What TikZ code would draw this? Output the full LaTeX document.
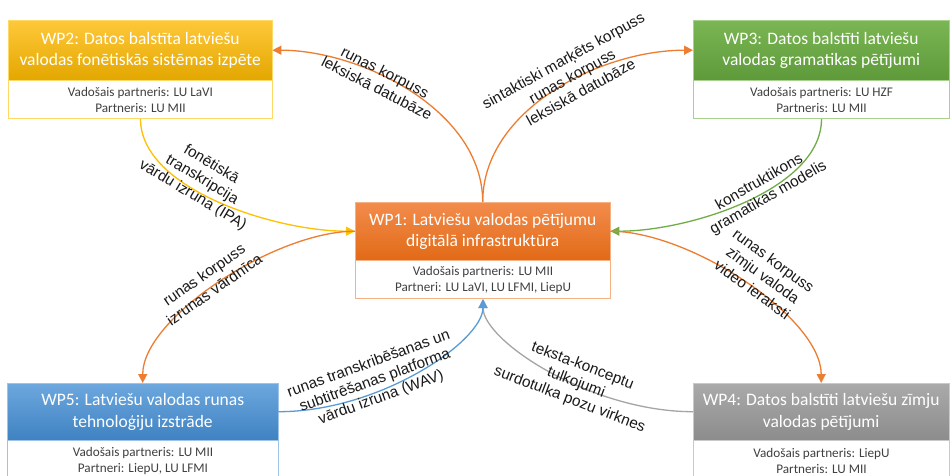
\documentclass[tikz,border=0pt]{standalone}
\usepackage{fontspec}
\setmainfont{Carlito}
\newfontfamily\arialf{Liberation Sans}
\usetikzlibrary{arrows.meta}
\definecolor{ygoldT}{HTML}{FFC83A}
\definecolor{ygoldB}{HTML}{E3A700}
\definecolor{ygoldL}{HTML}{FFD966}
\definecolor{grT}{HTML}{7AB653}
\definecolor{grB}{HTML}{5E9A3A}
\definecolor{grL}{HTML}{A9D18E}
\definecolor{orT}{HTML}{F28C4C}
\definecolor{orB}{HTML}{E26A17}
\definecolor{orL}{HTML}{F4B183}
\definecolor{blT}{HTML}{6DA8DE}
\definecolor{blB}{HTML}{3F82C2}
\definecolor{blL}{HTML}{9DC3E6}
\definecolor{gyT}{HTML}{AAAAAA}
\definecolor{gyB}{HTML}{8C8C8C}
\definecolor{gyL}{HTML}{C9C9C9}
\definecolor{arOr}{HTML}{ED7D31}
\definecolor{arYe}{HTML}{FFC000}
\definecolor{arGr}{HTML}{70AD47}
\definecolor{arBl}{HTML}{5B9BD5}
\definecolor{arGy}{HTML}{A5A5A5}
\definecolor{subtxt}{HTML}{404040}
\tikzset{
  header/.style={anchor=north west, inner sep=0pt, align=center, text=white,
    font=\fontsize{17.5}{21.5}\selectfont},
  subbox/.style={anchor=north west, inner sep=0pt, align=center, fill=white,
    text=subtxt, line width=1pt, font=\fontsize{13.2}{16}\selectfont},
  conn/.style={line width=1.3pt, -{Triangle[length=9pt,width=9pt]}},
  lbl/.style={align=center, inner sep=0pt, text=black!90,
    font=\arialf\fontsize{15.3}{18}\selectfont},
}
\begin{document}
\begin{tikzpicture}[x=1pt,y=-1pt]
\useasboundingbox (0,0) rectangle (950,475);
\fill[white] (0,0) rectangle (950,475);

% WP2
\node[header, top color=ygoldT, bottom color=ygoldB, draw=ygoldL,
  minimum width=264, minimum height=60] (wp2h) at (8,20)
  {WP2: Datos balstīta latviešu\\valodas fonētiskās sistēmas izpēte};
\node[subbox, draw=ygoldL, minimum width=264, minimum height=38] (wp2s) at (8,80)
  {Vadošais partneris: LU LaVI\\Partneris: LU MII};

% WP3
\node[header, top color=grT, bottom color=grB, draw=grL,
  minimum width=256, minimum height=60] (wp3h) at (693,20)
  {WP3: Datos balstīti latviešu\\valodas gramatikas pētījumi};
\node[subbox, draw=grL, minimum width=256, minimum height=38] (wp3s) at (693,80)
  {Vadošais partneris: LU HZF\\Partneris: LU MII};

% WP1
\node[header, top color=orT, bottom color=orB, draw=orL,
  minimum width=255, minimum height=58] (wp1h) at (355,202)
  {WP1: Latviešu valodas pētījumu\\digitālā infrastruktūra};
\node[subbox, draw=orL, minimum width=255, minimum height=38] (wp1s) at (355,260)
  {Vadošais partneris: LU MII\\Partneri: LU LaVI, LU LFMI, LiepU};

% WP5
\node[header, top color=blT, bottom color=blB, draw=blL,
  minimum width=271, minimum height=57] (wp5h) at (7,383)
  {WP5: Latviešu valodas runas\\tehnoloģiju izstrāde};
\node[subbox, draw=blL, minimum width=271, minimum height=40] (wp5s) at (7,440)
  {Vadošais partneris: LU MII\\Partneri: LiepU, LU LFMI};

% WP4
\node[header, top color=gyT, bottom color=gyB, draw=gyL,
  minimum width=256, minimum height=57] (wp4h) at (693,383)
  {WP4: Datos balstīti latviešu zīmju\\valodas pētījumi};
\node[subbox, draw=gyL, minimum width=256, minimum height=40] (wp4s) at (693,440)
  {Vadošais partneris: LiepU\\Partneris: LU MII};

% connectors
\draw[conn, arOr] (wp1h.north) .. controls +(0,-92) and +(88,0) .. (wp2h.east);
\draw[conn, arOr] (wp1h.north) .. controls +(0,-92) and +(-93,0) .. (wp3h.west);
\draw[conn, arYe] (wp2s.south) .. controls +(0,70) and +(-80,0) .. (wp1h.west);
\draw[conn, arGr] (wp3s.south) .. controls +(0,70) and +(80,0) .. (wp1h.east);
\draw[conn, arOr] (wp1h.west) .. controls +(-80,0) and +(0,-65) .. (wp5h.north);
\draw[conn, arOr] (wp1h.east) .. controls +(80,0) and +(0,-65) .. (wp4h.north);
\draw[conn, arGy] (wp4h.west) .. controls +(-102,0) and +(0,42) .. (wp1s.south);
\draw[conn, arBl] (wp5h.east) .. controls +(102,0) and +(0,42) .. (wp1s.south);

% labels
\node[lbl, rotate=-27] (l1) at (381,80) {runas korpuss\\leksiskā datubāze};
\node[lbl, rotate=29] (l2) at (572,76) {sintaktiski marķēts korpuss\\runas korpuss\\leksiskā datubāze};
\node[lbl, rotate=-31] (l3) at (202,180) {fonētiskā\\transkripcija\\vārdu izruna (IPA)};
\node[lbl, rotate=30] (l4) at (764,190) {konstruktikons\\gramatikas modelis};
\node[lbl, rotate=35] (l5) at (209,282) {runas korpuss\\izrunas vārdnīca};
\node[lbl, rotate=-36] (l6) at (763,275) {runas korpuss\\zīmju valoda\\video ieraksti};
\node[lbl, rotate=20] (l7) at (375,381) {runas transkribēšanas un\\subtitrēšanas platforma\\vārdu izruna (WAV)};
\node[lbl, rotate=-21] (l8) at (576,383) {teksta-konceptu\\tulkojumi\\surdotulka pozu virknes};
\end{tikzpicture}
\end{document}
